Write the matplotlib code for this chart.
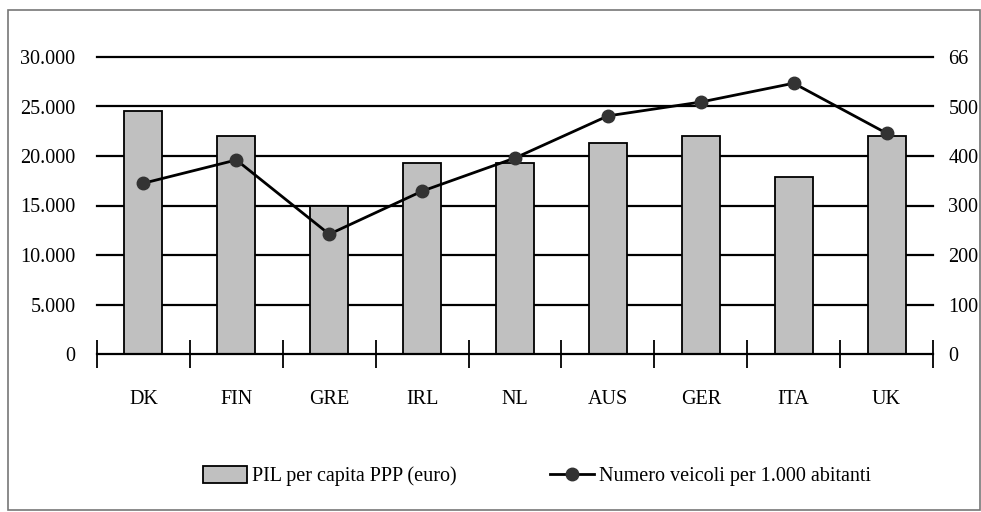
import matplotlib
matplotlib.use("Agg")
import matplotlib.pyplot as plt
import numpy as np
from matplotlib.patches import Rectangle, Patch
from matplotlib.lines import Line2D

categories = ["DK", "FIN", "GRE", "IRL", "NL", "AUS", "GER", "ITA", "UK"]
pil = [24500, 22000, 15000, 19300, 19300, 21300, 22000, 17900, 22000]
veicoli = [345, 392, 242, 329, 396, 481, 509, 547, 446]
left_ticks = [0, 5000, 10000, 15000, 20000, 25000, 30000]
left_labels = ["0", "5.000", "10.000", "15.000", "20.000", "25.000", "30.000"]
right_ticks = [0, 100, 200, 300, 400, 500, 600]
right_labels = ["0", "100", "200", "300", "400", "500", "66"]

plt.rcParams['font.family'] = ['Liberation Serif', 'DejaVu Serif']
FS = 14.5

fig = plt.figure(figsize=(9.81, 5.12), dpi=100)
fig.patches.append(Rectangle((8/981, 1-510/512), 972/981, 500/512, transform=fig.transFigure,
                             fill=False, edgecolor='#777777', linewidth=1.2))

ax = fig.add_axes([97/981, 1-354/512, 836/981, 297/512])
x = np.arange(len(categories))
ax.set_xlim(-0.5, len(categories) - 0.5)
ax.set_ylim(0, 30000)
for t in left_ticks[1:]:
    ax.axhline(t, color='black', lw=1.6, zorder=1, clip_on=False)
ax.bar(x, pil, width=0.41, color='#c0c0c0', edgecolor='black', linewidth=1.3, zorder=2)

for s in ['top', 'right', 'left']:
    ax.spines[s].set_visible(False)
ax.spines['bottom'].set_linewidth(1.6)
ax.set_yticks(left_ticks)
ax.set_yticklabels(left_labels, fontsize=FS)
ax.tick_params(axis='y', length=0, pad=15.5)
ax.set_xticks(x)
ax.set_xticklabels(categories, fontsize=FS)
ax.tick_params(axis='x', which='major', length=0, pad=26)
ax.set_xticks(np.arange(-0.5, len(categories)), minor=True)
ax.tick_params(axis='x', which='minor', direction='inout', length=20, width=1.3)

ax2 = ax.twinx()
ax2.set_ylim(0, 600)
for s in ['top', 'right', 'left', 'bottom']:
    ax2.spines[s].set_visible(False)
ax2.set_yticks(right_ticks)
ax2.set_yticklabels(right_labels, fontsize=FS)
ax2.tick_params(axis='y', length=0, pad=11)
ax2.plot(x, veicoli, color='black', lw=2, marker='o', markersize=9,
         markerfacecolor='#333333', markeredgecolor='#333333', zorder=3)

handles = [Patch(facecolor='#c0c0c0', edgecolor='black', linewidth=1.3),
           Line2D([0], [0], color='black', lw=2, marker='o', markersize=9,
                  markerfacecolor='#333333', markeredgecolor='#333333')]
fig.legend(handles, ["PIL per capita PPP (euro)", "Numero veicoli per 1.000 abitanti"],
           loc='center', bbox_to_anchor=(537/981, 1-476/512), ncol=2, frameon=False,
           fontsize=FS, columnspacing=4.6, handlelength=2.2, handletextpad=0.25,
           handleheight=0.9)

fig.savefig("out.png", dpi=100)
